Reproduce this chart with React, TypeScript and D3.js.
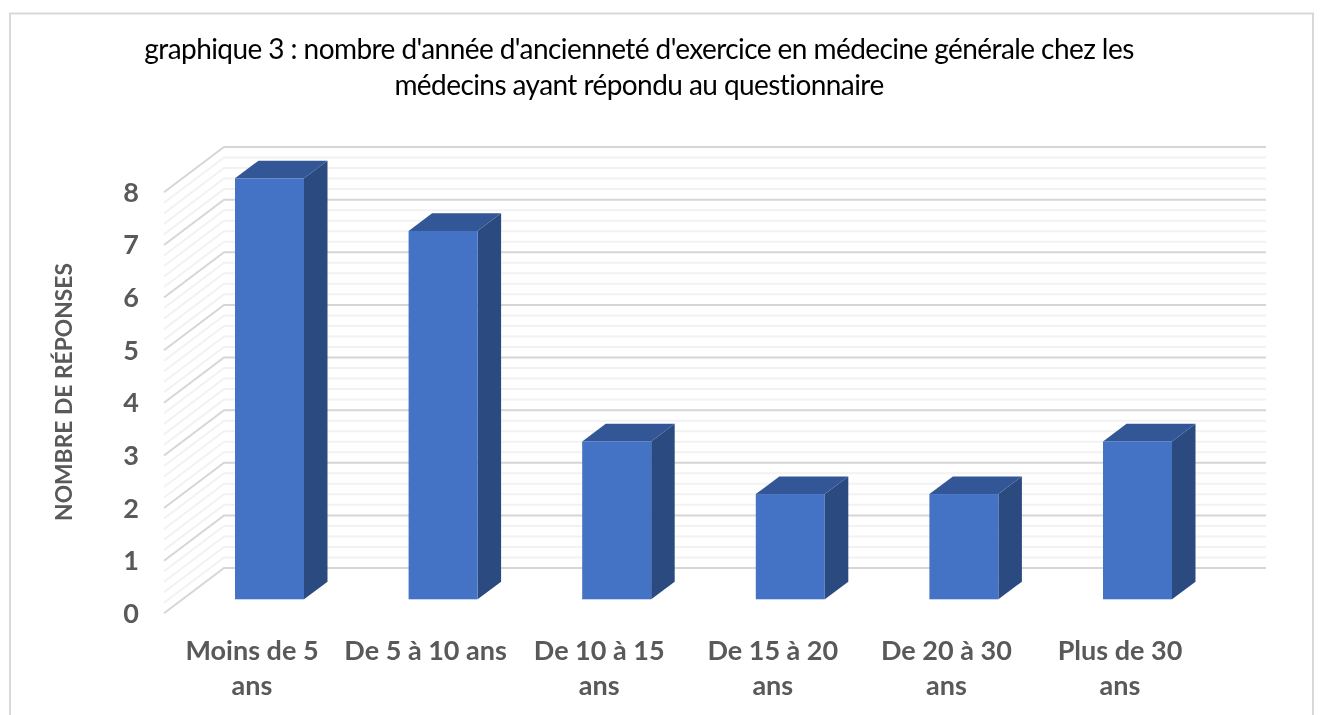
import React from "react";
import * as d3 from "d3";

const categories = ["Moins de 5 ans", "De 5 à 10 ans", "De 10 à 15 ans", "De 15 à 20 ans", "De 20 à 30 ans", "Plus de 30 ans"];
const categoryLines = [["Moins de 5", "ans"], ["De 5 à 10 ans"], ["De 10 à 15", "ans"], ["De 15 à 20", "ans"], ["De 20 à 30", "ans"], ["Plus de 30", "ans"]];
const values = [8, 7, 3, 2, 2, 3];
const yTicks = [0, 1, 2, 3, 4, 5, 6, 7, 8];
const minorTicks = d3.range(0, 41).map((d) => d / 5);
const titleLines = [
  "graphique 3 : nombre d'année d'ancienneté d'exercice en médecine générale chez les",
  "médecins ayant répondu au questionnaire",
];
const yTitle = "NOMBRE DE RÉPONSES";

const W = 1325, H = 715;
const FONT = "Lato, 'Open Sans', sans-serif";
const DX = 23.5, DY = 17.6; // bar depth
const WALL_DX = 60, WALL_DY = 45.3; // floor depth

export default function App() {
  const y = d3.scaleLinear().domain([0, 8]).range([599.3, 178.3]);
  const x = d3.scaleBand<string>().domain(categories).range([182.7, 1224.3]).paddingInner(1 - 69 / 173.6).paddingOuter((1 - 69 / 173.6) / 2);
  const bw = x.bandwidth();
  const wallOffset = 613.3 - 599.3; // front edge of the floor sits below the bar base
  const pts = (p: number[][]) => p.map((q) => q.join(",")).join(" ");

  return (
    <svg width={W} height={H} style={{ position: "absolute", left: 0, top: 0, display: "block", background: "#fff", filter: "blur(0.45px)" }} fontFamily={FONT}>
      <path d="M10,716 V13.5 H1313 V716" fill="none" stroke="#d9d9d9" strokeWidth={2} />
      {titleLines.map((t, i) => (
        <text key={i} x={639} y={i === 0 ? 59 : 95} textAnchor="middle" fontSize={28} letterSpacing={-0.57} fill="#000">{t}</text>
      ))}
      {minorTicks.map((t) => {
        const major = Number.isInteger(t);
        const yy = y(t) + wallOffset;
        return (
          <polyline key={t} points={pts([[164, yy], [164 + WALL_DX, yy - WALL_DY], [1266, yy - WALL_DY]])} fill="none"
            stroke={major ? "#d6d6d6" : "#f2f2f2"} strokeWidth={2} />
        );
      })}
      {yTicks.map((t) => (
        <text key={t} x={131} y={y(t) + wallOffset + 9.5} textAnchor="middle" fontSize={27} fontWeight={700} fill="#595959">{t}</text>
      ))}
      <text transform="translate(72,392) rotate(-90)" textAnchor="middle" fontSize={22.8} fontWeight={700} fill="#595959">{yTitle}</text>
      {categories.map((c, i) => {
        const x0 = x(c) as number, x1 = x0 + bw, top = y(values[i]), base = y(0);
        return (
          <g key={c}>
            <polygon points={pts([[x1, top], [x1 + DX, top - DY], [x1 + DX, base - DY], [x1, base]])} fill="#2a4a80" />
            <polygon points={pts([[x0, top], [x0 + DX, top - DY], [x1 + DX, top - DY], [x1, top]])} fill="#335796" />
            <rect x={x0} y={top} width={bw} height={base - top} fill="#4472c4" />
          </g>
        );
      })}
      {categories.map((c, i) => {
        const cx = (x(c) as number) + bw / 2 - 17.5;
        return (
          <text key={c} textAnchor="middle" fontSize={27} fontWeight={700} fill="#595959">
            {categoryLines[i].map((l, j) => (
              <tspan key={j} x={cx} y={660 + j * 35}>{l}</tspan>
            ))}
          </text>
        );
      })}
    </svg>
  );
}
